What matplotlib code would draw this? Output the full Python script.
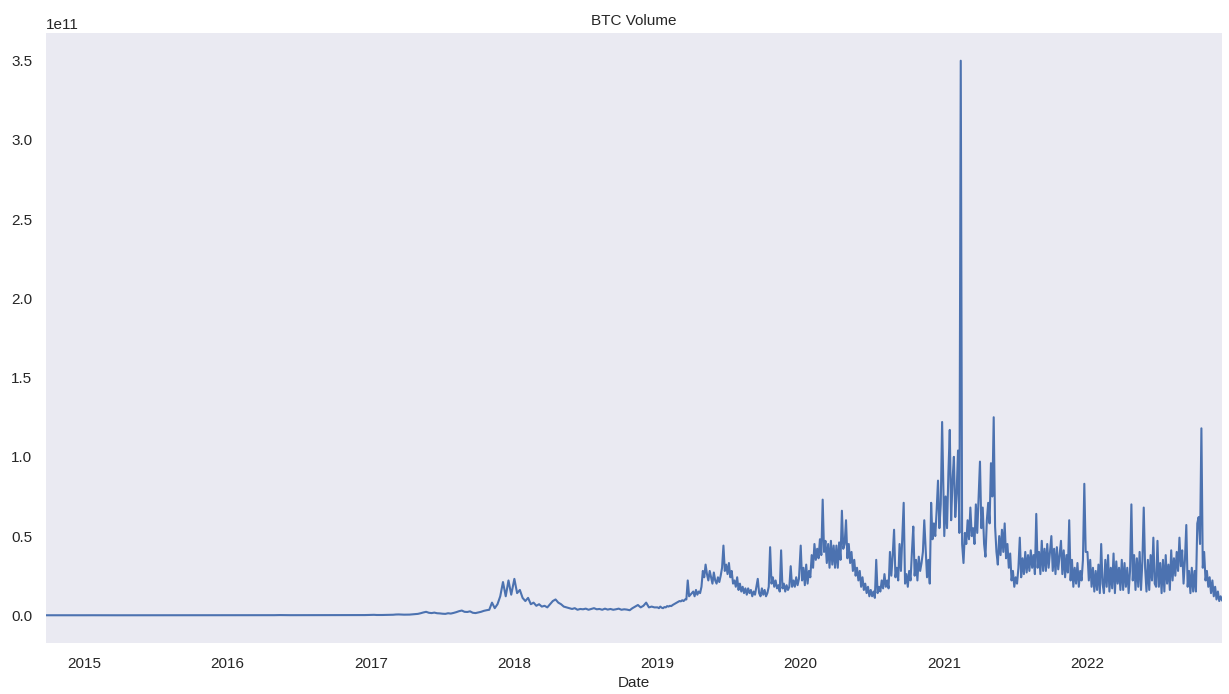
import pandas as pd
import matplotlib
matplotlib.use("Agg")
import matplotlib.pyplot as plt
import matplotlib.dates as mdates

# BTC trading volume, in billions of USD.
# 2014-2018: one value per week; 2019-2022: one value every half week.
vol_2014 = [0.03, 0.04, 0.03, 0.03, 0.02, 0.03, 0.04, 0.03, 0.02, 0.02, 0.02, 0.02, 0.02, 0.02]

vol_2015 = [0.03, 0.05, 0.07, 0.04, 0.03, 0.03, 0.02, 0.03, 0.03, 0.02, 0.03, 0.02, 0.02,
            0.02, 0.02, 0.02, 0.02, 0.02, 0.02, 0.02, 0.02, 0.02, 0.03, 0.03, 0.04, 0.03,
            0.03, 0.03, 0.03, 0.04, 0.03, 0.02, 0.02, 0.03, 0.03, 0.03, 0.03, 0.02, 0.02,
            0.03, 0.03, 0.03, 0.04, 0.06, 0.08, 0.06, 0.07, 0.05, 0.05, 0.04, 0.04, 0.05]

vol_2016 = [0.05, 0.06, 0.08, 0.06, 0.05, 0.05, 0.06, 0.07, 0.06, 0.07, 0.06, 0.05, 0.05,
            0.05, 0.05, 0.06, 0.07, 0.08, 0.12, 0.15, 0.12, 0.10, 0.09, 0.08, 0.08, 0.07,
            0.07, 0.08, 0.09, 0.08, 0.07, 0.06, 0.07, 0.07, 0.08, 0.07, 0.08, 0.09, 0.09,
            0.09, 0.10, 0.10, 0.11, 0.12, 0.12, 0.13, 0.12, 0.13, 0.13, 0.14, 0.15, 0.20]

vol_2017 = [0.25, 0.3, 0.2, 0.18, 0.2, 0.22, 0.25, 0.3, 0.35, 0.5, 0.55, 0.45, 0.4,
            0.4, 0.45, 0.6, 0.7, 0.9, 1.3, 1.8, 2.2, 1.6, 1.4, 1.7, 1.3, 1.2,
            1.0, 0.9, 1.3, 1.1, 1.5, 2.0, 2.6, 3.0, 2.2, 2.1, 2.5, 1.6, 1.4,
            1.8, 2.2, 2.8, 3.2, 3.5, 8.0, 4.5, 7.0, 12, 21, 12, 22, 13]

vol_2018 = [23, 14, 16, 11, 9, 11, 7, 8, 6, 7, 5.5, 6, 5,
            7, 9, 10, 8, 7, 5.5, 5, 4.5, 4, 4.5, 3.5, 4, 3.8,
            4.2, 3.5, 4, 4.5, 3.8, 4, 3.5, 4.2, 3.6, 4, 3.5, 3.8, 4.2,
            3.5, 3.8, 3.6, 3.2, 4.5, 5.5, 6.5, 5, 6, 8, 5, 5.5, 5]

vol_2019 = [5, 4.5, 5.5, 4.8, 4.5, 5.2, 5, 5.8, 5.5, 6, 5.8, 6.5, 7,
            7.5, 8, 8.5, 9, 8.8, 9.5, 9, 10, 10, 22, 12, 13, 14,
            15, 12, 16, 13, 15, 14, 18, 28, 24, 32, 26, 22, 28,
            24, 20, 27, 22, 20, 24, 21, 25, 30, 44, 28, 32, 26,
            33, 24, 28, 20, 22, 18, 24, 16, 20, 15, 18, 14, 17,
            13, 17, 14, 16, 12, 15, 13, 18, 23, 14, 12, 17, 13,
            16, 12, 14, 18, 43, 20, 24, 18, 22, 17, 19, 15, 41,
            17, 20, 15, 19, 16, 18, 31, 18, 22, 18, 24, 19, 23]

vol_2020 = [44, 22, 30, 19, 32, 20, 28, 24, 38, 30, 45, 35, 42,
            36, 48, 38, 73, 40, 47, 33, 45, 30, 47, 32, 44, 30,
            44, 30, 46, 35, 66, 42, 45, 60, 36, 45, 33, 40, 28,
            35, 25, 30, 22, 28, 18, 24, 16, 20, 14, 18, 12, 16,
            12, 15, 11, 35, 14, 18, 15, 22, 17, 26, 18, 22, 17,
            40, 25, 38, 54, 24, 30, 22, 45, 28, 50, 71, 20, 26,
            18, 28, 22, 40, 56, 25, 35, 22, 37, 28, 33, 40, 60,
            42, 24, 35, 20, 71, 48, 58, 50, 66, 85, 55, 70, 122]

vol_2021 = [50, 75, 55, 90, 117, 60, 85, 100, 62, 77, 104, 52, 350,
            45, 33, 52, 45, 60, 48, 68, 50, 55, 45, 70, 52, 75,
            97, 55, 68, 45, 37, 60, 71, 58, 96, 75, 125, 56, 40,
            32, 50, 38, 54, 40, 58, 36, 45, 30, 39, 22, 28, 18,
            24, 20, 30, 49, 24, 36, 26, 40, 27, 38, 28, 41, 30,
            38, 26, 64, 30, 40, 26, 47, 28, 42, 28, 45, 30, 40,
            50, 28, 42, 26, 43, 29, 38, 47, 26, 41, 24, 38, 27,
            60, 22, 35, 18, 30, 20, 33, 18, 28, 22, 35, 83, 40]

vol_2022 = [40, 22, 35, 18, 30, 15, 28, 16, 32, 14, 45, 20, 14,
            35, 18, 38, 15, 30, 17, 39, 14, 34, 20, 30, 16, 35,
            16, 33, 18, 30, 14, 28, 70, 22, 38, 16, 36, 18, 40,
            16, 34, 68, 30, 15, 35, 16, 38, 22, 49, 20, 18, 47,
            18, 33, 14, 35, 15, 38, 20, 32, 16, 41, 22, 36, 25,
            40, 28, 49, 31, 41, 20, 35, 57, 18, 28, 14, 30, 15,
            28, 15, 58, 62, 45, 118, 30, 40, 22, 28, 18, 24, 14,
            22, 12, 18, 10, 15, 9, 12, 9.5]

first_day = {2014: "2014-09-25", 2015: "2015-01-01", 2016: "2016-01-01",
             2017: "2017-01-01", 2018: "2018-01-01", 2019: "2019-01-01",
             2020: "2020-01-01", 2021: "2021-01-01", 2022: "2022-01-01"}
step = {2014: "7D", 2015: "7D", 2016: "7D", 2017: "7D", 2018: "7D",
        2019: "84h", 2020: "84h", 2021: "84h", 2022: "84h"}
yearly = {2014: vol_2014, 2015: vol_2015, 2016: vol_2016, 2017: vol_2017,
          2018: vol_2018, 2019: vol_2019, 2020: vol_2020, 2021: vol_2021,
          2022: vol_2022}

parts = []
for year, vals in yearly.items():
    idx = pd.date_range(first_day[year], periods=len(vals), freq=step[year])
    parts.append(pd.Series(vals, index=idx, dtype=float))
volume = pd.concat(parts) * 1e9
volume.index.name = "Date"

text_color = "#262626"
plt.rcParams.update({
    "font.family": ["Liberation Sans", "DejaVu Sans"],
    "font.size": 11,
    "text.color": text_color,
    "axes.labelcolor": text_color,
    "xtick.color": text_color,
    "ytick.color": text_color,
})

fig = plt.figure(figsize=(12.29, 6.94), dpi=100)
ax = fig.add_axes([46 / 1229, 51 / 694, 1176 / 1229, 610 / 694])
ax.set_facecolor("#EAEAF2")
for side in ax.spines.values():
    side.set_visible(False)

ax.plot(volume.index, volume.values, color="#4C72B0", linewidth=1.5)

ax.set_xlim(volume.index[0], volume.index[-1])
ax.xaxis.set_major_locator(mdates.YearLocator())
ax.xaxis.set_major_formatter(mdates.DateFormatter("%Y"))
ax.tick_params(which="both", length=0)
ax.tick_params(axis="x", pad=10)
ax.tick_params(axis="y", pad=10)
ax.set_yticks([0, 0.5e11, 1.0e11, 1.5e11, 2.0e11, 2.5e11, 3.0e11, 3.5e11])

ax.set_title("BTC Volume", fontsize=11)
ax.set_xlabel("Date", fontsize=11, labelpad=4)

fig.savefig("out.png", dpi=100, facecolor="white")
